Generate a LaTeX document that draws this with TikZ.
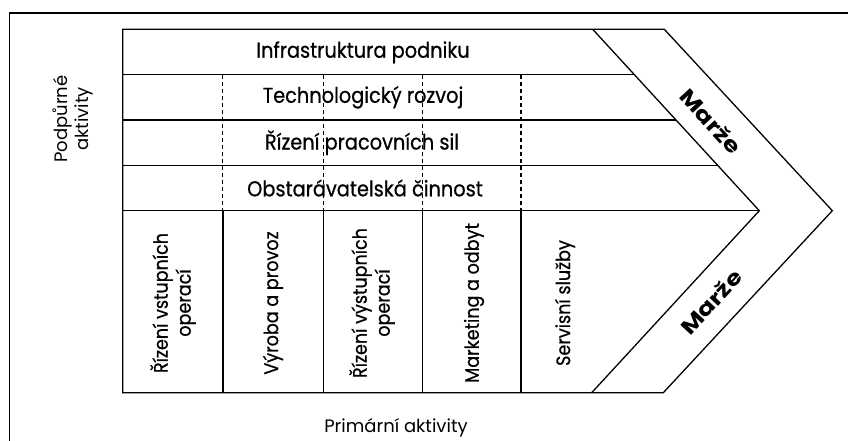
\documentclass[tikz,border=0pt]{standalone}
\usepackage{fontspec}
\setmainfont[FakeBold=0.6, FakeStretch=0.9]{Poppins}
\newfontfamily\heavyfont[FakeStretch=1.2]{Poppins}
\newfontfamily\lightfont{Poppins}
\usetikzlibrary{calc}

\tikzset{
  edge/.style={line width=1.3pt, black},
  divider/.style={line width=1.1pt, black, dash pattern=on 4pt off 3pt},
  frameline/.style={line width=1.8pt, black},
  rowlabel/.style={inner sep=0pt, font=\fontsize{21.5}{24}\selectfont},
  collabel/.style={inner sep=0pt, rotate=90, align=center, font=\fontsize{19.5}{23}\selectfont},
  marginlabel/.style={inner sep=0pt, font=\heavyfont\bfseries\fontsize{21}{24}\selectfont},
  sidelabel/.style={inner sep=0pt, align=center, font=\lightfont\fontsize{18}{21}\selectfont}
}

\begin{document}
\begin{tikzpicture}[x=1pt, y=-1pt]
\useasboundingbox (0,0) rectangle (848,441);

% page frame (top and left rules only)
\draw[frameline] (9.5,441) -- (9.5,12.7) -- (848,12.7);

% corner points of the value chain arrow
\coordinate (tl)   at (122.7,29.3);
\coordinate (ti)   at (592.7,29.3);
\coordinate (to)   at (664.3,29.3);
\coordinate (tipi) at (759.3,210.7);
\coordinate (tipo) at (832.3,210.7);
\coordinate (bi)   at (591.7,392.7);
\coordinate (bo)   at (663.3,392.7);
\coordinate (bl)   at (122.7,392.7);

% outline and inner margin chevron
\draw[edge, line join=miter] (bl) -- (tl) -- (to) -- (tipo) -- (bo) -- cycle;
\draw[edge] (ti) -- (tipi) -- (bi);

% support activity rows
\coordinate (r1) at ($(ti)!0.25!(tipi)$);
\coordinate (r2) at ($(ti)!0.5!(tipi)$);
\coordinate (r3) at ($(ti)!0.75!(tipi)$);
\draw[edge] (r1) -- (r1 -| tl);
\draw[edge] (r2) -- (r2 -| tl);
\draw[edge] (r3) -- (r3 -| tl);
\draw[edge] (tipi) -- (tipi -| tl);

% column boundaries: dashed through support rows, solid in primary part
\foreach \x/\n in {222.9/a, 323.3/b, 422.7/c, 521/d} {
  \coordinate (d\n) at (\x,0);
  \draw[divider] (d\n |- r1) -- (d\n |- tipi);
  \draw[edge] (d\n |- tipi) -- (d\n |- bl);
}

% support activities
\node[rowlabel] (infra) at (363,52.3)  {Infrastruktura podniku};
\node[rowlabel] (tech)  at (363,97.3)  {Technologický rozvoj};
\node[rowlabel] (hr)    at (362,142.7) {Řízení pracovních sil};
\node[rowlabel] (proc)  at (365,188)   {Obstarávatelská činnost};

% primary activities
\node[collabel] (inlog)  at (173,303) {Řízení vstupních\\operací};
\node[collabel] (ops)    at (273,303) {Výroba a provoz};
\node[collabel] (outlog) at (372,303) {Řízení výstupních\\operací};
\node[collabel] (mkt)    at (474,303) {Marketing a odbyt};
\node[collabel] (serv)   at (565,303) {Servisní služby};

% margin labels
\node[marginlabel, rotate=-47.2] (m1) at (711,121) {Marže};
\node[marginlabel, rotate=47.2]  (m2) at (711,302) {Marže};

% axis labels
\node[sidelabel, rotate=90] (supp) at (73,119)  {Podpůrné\\aktivity};
\node[sidelabel]            (prim) at (396,428) {Primární aktivity};
\end{tikzpicture}
\end{document}
